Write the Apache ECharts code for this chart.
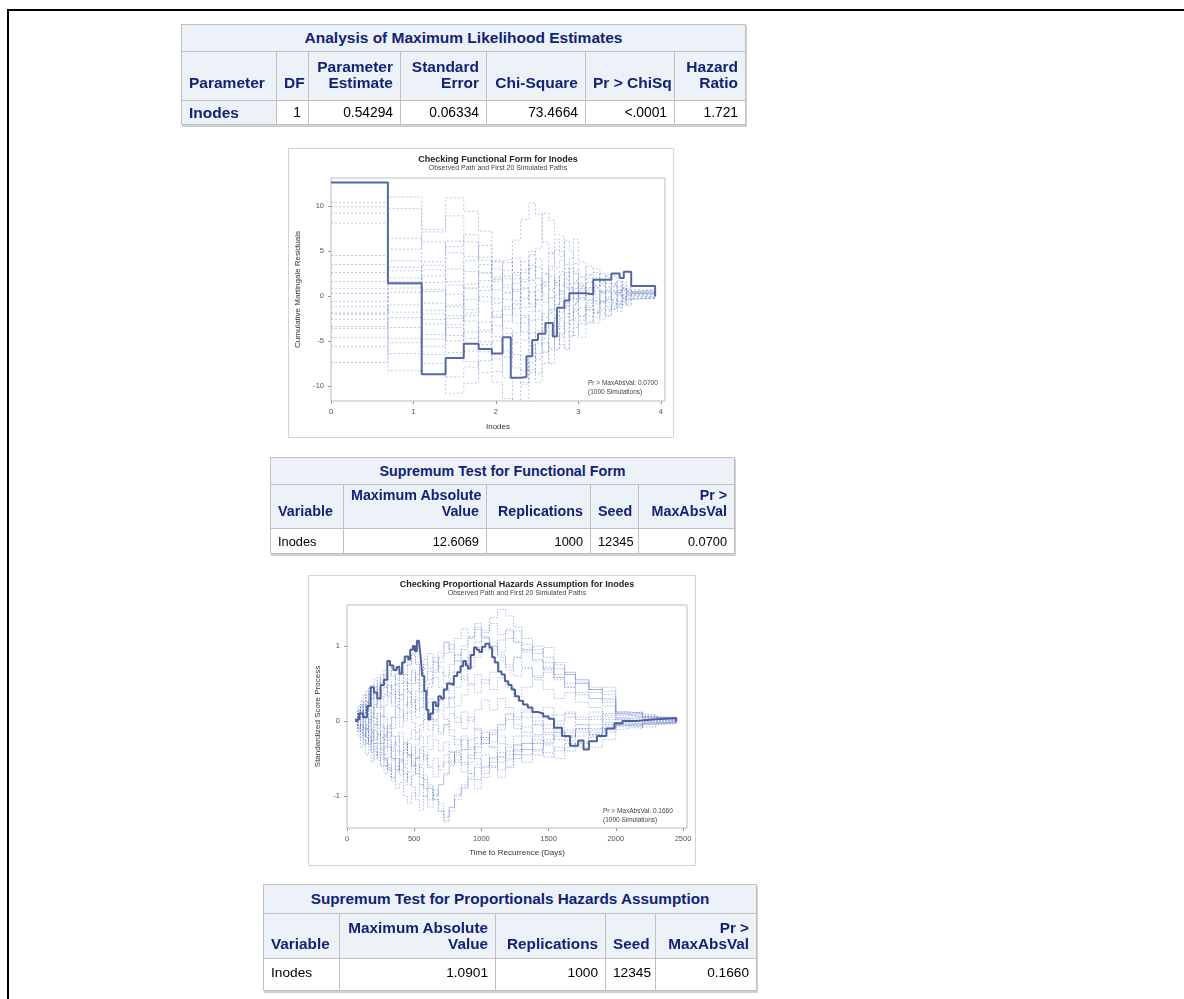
<!DOCTYPE html>
<html><head><meta charset="utf-8">
<script src="https://cdn.jsdelivr.net/npm/echarts@6/dist/echarts.min.js"></script>
<style>
html,body{margin:0;padding:0;background:#fff;overflow:hidden;width:1184px;height:999px}
#frame{position:absolute;left:7px;top:9px;width:1400px;height:1200px;border-top:2px solid #000;border-left:2px solid #000;}
#chart{position:absolute;left:0;top:0;width:1184px;height:999px;}
table.sas{position:absolute;border-collapse:collapse;table-layout:fixed;font-family:'Liberation Sans',Arial,sans-serif;z-index:5;border:1px solid #c1c1c1;box-shadow:1px 2px 0 #d0d0d0}
table.sas th,table.sas td{border:1px solid #c1c1c1;padding:0 7px;overflow:hidden;white-space:nowrap;box-sizing:border-box}
table.sas th{background:#edf2f9;color:#112277;font-weight:bold;text-align:right;vertical-align:bottom;line-height:16px;padding-bottom:9px}
table.sas th.ttl{text-align:center;vertical-align:middle;padding-bottom:0}
table.sas th.l{text-align:left}
table.sas tr.d th{vertical-align:middle;padding-bottom:0}
table.sas td{background:#fff;color:#000;text-align:right;vertical-align:middle}
table.sas td.l{text-align:left}
#t3 tr.h th{padding-bottom:6px}
#t3 tr.d td{padding-bottom:4px}
</style></head>
<body>
<div id="frame"></div>
<div id="chart"></div>

<table class="sas" style="left:181px;top:24px;width:564px;font-size:15.5px">
<colgroup><col style="width:95px"><col style="width:32px"><col style="width:92px"><col style="width:86px"><col style="width:99px"><col style="width:89px"><col style="width:71px"></colgroup>
<tr style="height:27px"><th colspan="7" class="ttl">Analysis of Maximum Likelihood Estimates</th></tr>
<tr style="height:49px"><th class="l">Parameter</th><th>DF</th><th>Parameter<br>Estimate</th><th>Standard<br>Error</th><th>Chi-Square</th><th>Pr &gt; ChiSq</th><th>Hazard<br>Ratio</th></tr>
<tr class="d" style="height:24px;font-size:13.8px"><th class="l" style="font-size:15.5px">Inodes</th><td>1</td><td>0.54294</td><td>0.06334</td><td>73.4664</td><td>&lt;.0001</td><td>1.721</td></tr>
</table>

<table class="sas" style="left:270px;top:457px;width:464px;font-size:14.3px">
<colgroup><col style="width:73px"><col style="width:143px"><col style="width:104px"><col style="width:48px"><col style="width:96px"></colgroup>
<tr style="height:27px"><th colspan="5" class="ttl">Supremum Test for Functional Form</th></tr>
<tr style="height:44px"><th class="l">Variable</th><th>Maximum Absolute<br>Value</th><th>Replications</th><th>Seed</th><th>Pr &gt;<br>MaxAbsVal</th></tr>
<tr class="d" style="height:25px;font-size:12.8px"><td class="l">Inodes</td><td>12.6069</td><td>1000</td><td>12345</td><td>0.0700</td></tr>
</table>

<table class="sas" id="t3" style="left:263px;top:884px;width:493px;font-size:15.3px">
<colgroup><col style="width:76px"><col style="width:156px"><col style="width:110px"><col style="width:50px"><col style="width:101px"></colgroup>
<tr style="height:29px"><th colspan="5" class="ttl">Supremum Test for Proportionals Hazards Assumption</th></tr>
<tr class="h" style="height:45px"><th class="l">Variable</th><th>Maximum Absolute<br>Value</th><th>Replications</th><th>Seed</th><th>Pr &gt;<br>MaxAbsVal</th></tr>
<tr class="d" style="height:32px;font-size:13.7px"><td class="l">Inodes</td><td>1.0901</td><td>1000</td><td>12345</td><td>0.1660</td></tr>
</table>

<script>
// ---------- Chart 1: Checking Functional Form for Inodes ----------
const FF_OBS_X = [0, 0.69, 1.10, 1.39, 1.61, 1.79, 1.95, 2.08, 2.18, 2.30, 2.37, 2.44, 2.51, 2.60, 2.69, 2.74, 2.83, 2.89, 3.09, 3.18, 3.40, 3.50, 3.55, 3.64, 3.93];
const FF_OBS_Y = [12.6, 1.4, -8.7, -6.9, -5.3, -5.9, -6.4, -4.6, -9.1, -9.0, -6.7, -4.9, -4.2, -3.0, -4.5, -1.3, -0.5, 0.3, 0.2, 1.8, 2.5, 2.0, 2.7, 1.1, 0];
const FF_SIM_X = [0, 0.69, 1.10, 1.39, 1.61, 1.79, 1.95, 2.08, 2.20, 2.30, 2.40, 2.48, 2.56, 2.64, 2.71, 2.77, 2.83, 2.89, 2.94, 3.00, 3.09, 3.18, 3.26, 3.33, 3.40, 3.47, 3.53, 3.58, 3.64, 3.93];
const FF_SIM_1 = [10.4, 11.0, 7.4, 10.9, 9.4, 7.2, 3.9, 4.1, 2.6, 1.8, 3.1, 2.0, 1.1, 2.2, 1.5, 2.4, 1.0, 0.6, 1.3, 0.8, 0.2, 0.9, 0.4, 0.7, 0.3, 0.5, 0.1, 0.4, 0.2, 0];
const FF_SIM_2 = [9.9, 6.4, 3.8, 5.5, 6.8, 4.3, 2.1, 1.2, 6.2, 8.5, 10.3, 9.1, 6.0, 4.8, 3.1, 4.0, 2.2, 3.5, 2.5, 1.4, 2.0, 1.1, 1.6, 0.9, 1.2, 0.6, 0.9, 0.5, 0.7, 0];
const FF_SIM_3 = [9.2, 3.2, 0.5, -1.2, 0.8, -0.6, -2.3, -1.5, 0.7, 2.9, 4.6, 5.3, 9.2, 8.4, 6.8, 6.6, 3.5, 4.2, 6.3, 3.8, 2.4, 3.0, 1.8, 2.2, 1.3, 1.7, 0.8, 1.0, 0.5, 0];
const FF_SIM_4 = [8.1, 9.7, 6.0, 4.8, 2.7, 1.0, -0.8, 0.9, -1.4, -3.0, -1.7, -0.4, 1.5, 3.3, 5.1, 4.4, 6.1, 4.9, 3.6, 2.1, 3.3, 2.6, 1.4, 2.0, 1.1, 1.5, 0.7, 0.9, 0.4, 0];
const FF_SIM_5 = [4.5, 2.8, 3.4, 1.6, 3.9, 5.6, 3.0, 1.9, -0.5, -2.2, -4.1, -2.6, -3.9, -1.8, -0.9, -2.5, -1.2, 0.4, -0.8, 0.6, 1.5, 0.2, -0.6, 0.5, 1.0, 0.3, -0.2, 0.6, 0.3, 0];
const FF_SIM_6 = [3.5, 2.0, -0.8, -3.2, -1.5, -4.0, -2.1, -3.6, -5.2, -7.1, -8.5, -6.4, -4.7, -5.8, -3.9, -2.8, -4.0, -2.6, -1.5, -2.3, -1.1, -1.8, -0.7, -1.2, -0.4, -0.9, -0.2, 0.1, -0.1, 0];
const FF_SIM_7 = [2.6, 1.3, 2.2, 0.2, -1.9, 0.6, 1.8, 0.4, 2.3, 0.9, -0.9, 1.2, -0.7, 0.8, 2.0, 0.5, -1.1, 0.3, 1.5, -0.2, 0.7, -0.6, 0.4, -0.3, 0.5, 0.0, 0.6, 0.2, -0.1, 0];
const FF_SIM_8 = [0.85, 0.9, -2.6, -5.0, -7.3, -8.5, -9.6, -11.4, -12.5, -12.5, -8.2, -9.6, -7.5, -6.0, -4.2, -4.6, -3.0, -4.6, -3.5, -3.1, -2.2, -3.0, -1.9, -2.2, -1.4, -1.0, -0.8, -0.3, -0.2, 0];
const FF_SIM_9 = [0.3, -1.8, -4.3, -2.5, -0.4, 1.7, -0.3, -2.1, -0.8, 1.6, 3.4, 1.9, 0.2, -1.6, -0.3, 1.2, 2.6, 1.0, -0.6, 0.8, -0.4, 0.9, 1.7, 0.6, -0.2, 0.4, 0.9, 0.3, 0.5, 0];
const FF_SIM_10 = [-0.6, 3.9, 1.5, 3.0, 0.9, 2.6, 3.8, 2.2, 0.5, -1.3, 0.4, -1.7, -3.2, -1.5, 0.1, -1.8, -0.5, -2.0, -0.9, 0.3, -1.3, -0.2, 0.6, -0.5, 0.2, -0.6, 0.1, -0.3, 0.2, 0];
const FF_SIM_11 = [-1.2, -3.5, -6.5, -10.8, -9.7, -7.2, -5.0, -6.8, -4.1, -2.4, -5.5, -7.0, -5.2, -7.5, -6.0, -4.1, -5.8, -4.4, -2.8, -4.6, -3.0, -1.9, -2.6, -1.5, -0.9, -1.3, -0.6, -0.9, -0.3, 0];
const FF_SIM_12 = [-1.9, 0.4, 2.9, 6.1, 4.4, 2.5, 0.7, 2.8, 4.2, 2.6, 5.0, 3.2, 1.6, 3.0, 1.2, 2.7, 0.9, -0.4, 0.8, 2.1, 0.9, 1.8, 0.5, 1.0, 0.3, 0.6, -0.1, 0.2, 0.4, 0];
const FF_SIM_13 = [-2.6, -5.2, -3.1, -6.3, -4.0, -6.2, -8.4, -6.1, -8.0, -9.8, -7.4, -5.3, -3.5, -1.9, -3.4, -5.4, -6.0, -3.9, -4.4, -2.7, -1.5, -2.4, -1.6, -2.2, -1.1, -0.6, -1.0, -0.4, -0.2, 0];
const FF_SIM_14 = [-3.4, -1.0, 0.7, -2.2, -4.7, -2.9, -4.5, -2.8, -1.0, 0.8, -1.2, 0.6, 2.4, 4.7, 6.3, 4.9, 3.0, 1.4, 2.8, 1.1, -0.5, 0.5, -0.8, -0.1, -0.7, 0.2, -0.4, 0.0, 0.3, 0];
const FF_SIM_15 = [-3.6, -6.4, -7.5, -9.0, -7.9, -5.4, -3.3, -1.2, -3.0, -4.9, -2.7, -0.9, -2.4, -4.0, -2.2, -0.6, -2.0, -3.2, -1.7, -0.4, -1.6, -0.5, -1.4, -0.7, -1.5, -0.8, -0.3, -0.6, 0.1, 0];
const FF_SIM_16 = [-4.6, -2.4, -4.8, -1.0, 1.3, 3.5, 1.6, 3.7, 1.9, -0.3, 1.8, 4.1, 2.5, 0.6, -1.0, 0.6, -0.8, 0.9, -0.3, 1.0, 2.3, 1.2, 2.5, 1.4, 2.2, 1.0, 1.6, 0.7, 0.6, 0];
const FF_SIM_17 = [-5.6, -8.3, -5.6, -3.5, -6.1, -3.8, -1.7, -4.2, -6.5, -8.3, -5.9, -3.8, -6.2, -4.1, -5.9, -4.3, -2.3, -1.0, -2.5, -1.3, -2.9, -1.6, -0.5, -1.7, -0.8, -1.7, -0.7, -1.1, -0.3, 0];
const FF_SIM_18 = [-7.4, -4.7, -2.0, -4.4, -2.2, -0.1, -2.4, 0.3, -2.1, -4.0, -6.3, -4.2, -2.0, -0.2, 1.5, -0.3, 1.3, 3.1, 1.7, -0.2, 0.9, 2.0, 1.1, 2.4, 1.4, 0.7, 1.3, 0.5, 0.6, 0];
const FF_SIM_19 = [-2.0, 1.6, -1.6, 1.2, -2.8, -5.1, -7.0, -9.1, -12.5, -9.6, -6.6, -8.6, -6.3, -4.3, -2.5, -3.4, -1.4, -2.7, -1.0, -2.2, -0.8, -1.9, -0.6, 0.4, -0.5, -1.1, -0.4, 0.0, -0.2, 0];
const FF_SIM_20 = [1.6, 5.2, 7.1, 8.9, 6.0, 4.0, 1.9, -0.4, 1.4, 3.8, 1.7, -0.5, 1.3, -0.2, 1.7, 0.2, 1.9, 0.4, -0.4, 1.2, 0.1, -0.9, 0.3, -0.4, 0.6, 0.1, 0.8, 0.3, 0.1, 0];
const FF_X_TICKS = [0, 1, 2, 3, 4];
const FF_Y_TICKS = [-10, -5, 0, 5, 10];

// ---------- Chart 2: Checking Proportional Hazards Assumption ----------
const PH_OBS_T = [60, 90, 120, 150, 175, 200, 225, 250, 275, 300, 320, 345, 370, 390, 410, 430, 455, 470, 490, 505, 520, 535, 548, 560, 575, 590, 605, 620, 640, 660, 680, 700, 720, 745, 770, 795, 820, 845, 865, 885, 900, 920, 945, 965, 985, 1005, 1030, 1060, 1080, 1100, 1125, 1150, 1175, 1200, 1225, 1250, 1280, 1310, 1345, 1380, 1420, 1460, 1500, 1540, 1600, 1660, 1720, 1760, 1800, 1860, 1930, 1990, 2050, 2150, 2280, 2450];
const PH_OBS_Y = [0.02, 0.10, 0.05, 0.20, 0.45, 0.38, 0.30, 0.48, 0.55, 0.80, 0.74, 0.68, 0.72, 0.63, 0.78, 0.86, 0.82, 0.95, 1.00, 0.93, 1.07, 1.09, 0.85, 0.60, 0.40, 0.15, 0.02, 0.10, 0.25, 0.20, 0.33, 0.30, 0.42, 0.50, 0.48, 0.60, 0.65, 0.73, 0.80, 0.74, 0.70, 0.88, 0.98, 0.95, 0.92, 0.99, 1.03, 0.98, 0.85, 0.78, 0.66, 0.62, 0.53, 0.48, 0.42, 0.33, 0.27, 0.22, 0.18, 0.12, 0.10, 0.06, 0.03, -0.09, -0.20, -0.33, -0.26, -0.38, -0.27, -0.20, -0.10, -0.03, 0.00, 0.02, 0.04, 0.00];
const PH_SIM_T = [60, 80, 100, 120, 140, 160, 180, 200, 225, 250, 275, 300, 330, 360, 390, 420, 450, 480, 510, 540, 570, 600, 640, 680, 720, 760, 800, 850, 900, 950, 1000, 1060, 1120, 1180, 1240, 1300, 1380, 1460, 1540, 1620, 1700, 1800, 1900, 2000, 2100, 2200, 2300, 2450];
const PH_SIM_1 = [0, 0.12, 0.05, 0.2, 0.1, 0.28, 0.35, 0.22, 0.4, 0.52, 0.45, 0.6, 0.72, 0.55, 0.66, 0.81, 0.74, 0.9, 0.78, 0.62, 0.7, 0.55, 0.68, 0.85, 1.05, 0.96, 1.1, 1.23, 1.12, 1.3, 1.21, 1.38, 1.49, 1.4, 1.25, 1.1, 0.95, 0.78, 0.62, 0.5, 0.38, 0.3, 0.2, 0.12, 0.08, 0.05, 0.03, 0];
const PH_SIM_2 = [0, -0.1, -0.05, -0.18, -0.3, -0.22, -0.38, -0.5, -0.42, -0.6, -0.7, -0.58, -0.76, -0.9, -0.82, -1.0, -1.1, -0.95, -1.05, -1.19, -1.0, -0.88, -1.05, -1.2, -1.33, -1.15, -0.98, -0.85, -0.7, -0.78, -0.6, -0.48, -0.55, -0.4, -0.32, -0.38, -0.25, -0.3, -0.2, -0.26, -0.15, -0.18, -0.1, -0.06, -0.08, -0.04, -0.02, 0];
const PH_SIM_3 = [0, 0.08, 0.15, 0.05, -0.1, 0.02, -0.15, -0.05, 0.1, -0.08, -0.25, -0.15, -0.32, -0.2, -0.4, -0.28, -0.45, -0.6, -0.5, -0.35, -0.48, -0.62, -0.75, -0.6, -0.45, -0.58, -0.4, -0.25, -0.38, -0.22, -0.3, -0.15, -0.05, 0.1, 0.02, 0.15, 0.05, 0.18, 0.08, 0.12, 0.02, 0.06, -0.02, 0.04, 0.01, 0.03, 0.0, 0];
const PH_SIM_4 = [0, 0.15, 0.28, 0.2, 0.35, 0.45, 0.3, 0.42, 0.58, 0.48, 0.62, 0.75, 0.6, 0.48, 0.35, 0.5, 0.38, 0.25, 0.4, 0.55, 0.42, 0.3, 0.15, 0.28, 0.4, 0.52, 0.65, 0.55, 0.72, 0.85, 0.95, 1.05, 0.92, 1.1, 1.2, 1.02, 0.9, 0.98, 0.75, 0.65, 0.55, 0.45, 0.4, 0.12, 0.1, 0.08, 0.05, 0];
const PH_SIM_5 = [0, -0.2, -0.35, -0.25, -0.45, -0.38, -0.55, -0.45, -0.3, -0.42, -0.2, -0.35, -0.5, -0.65, -0.52, -0.7, -0.85, -0.72, -0.6, -0.75, -0.9, -1.05, -0.92, -1.1, -1.28, -1.15, -1.0, -0.88, -0.75, -0.62, -0.7, -0.55, -0.42, -0.5, -0.38, -0.45, -0.3, -0.42, -0.5, -0.35, -0.28, -0.2, -0.12, -0.1, -0.05, -0.08, -0.03, 0];
const PH_SIM_6 = [0, 0.1, -0.02, 0.12, 0.25, 0.15, 0.05, 0.2, 0.32, 0.18, 0.05, -0.1, 0.05, 0.2, 0.35, 0.22, 0.38, 0.5, 0.62, 0.48, 0.35, 0.5, 0.65, 0.78, 0.9, 1.02, 0.88, 0.75, 0.92, 1.05, 1.18, 1.3, 1.15, 1.22, 1.05, 0.95, 1.0, 0.85, 0.7, 0.62, 0.5, 0.42, 0.35, 0.1, 0.12, 0.06, 0.04, 0];
const PH_SIM_7 = [0, -0.05, -0.15, -0.08, -0.2, -0.12, -0.28, -0.4, -0.52, -0.45, -0.6, -0.48, -0.35, -0.5, -0.65, -0.8, -0.68, -0.55, -0.7, -0.58, -0.45, -0.6, -0.5, -0.65, -0.55, -0.4, -0.52, -0.38, -0.5, -0.35, -0.22, -0.35, -0.48, -0.6, -0.45, -0.55, -0.4, -0.48, -0.35, -0.4, -0.3, -0.35, -0.25, -0.08, -0.1, -0.05, -0.04, 0];
const PH_SIM_8 = [0, 0.05, 0.12, 0.22, 0.15, 0.3, 0.2, 0.1, -0.05, 0.08, -0.1, -0.22, -0.1, 0.05, -0.08, 0.1, 0.25, 0.12, 0.28, 0.4, 0.3, 0.15, 0.0, -0.15, -0.05, -0.2, -0.32, -0.2, -0.35, -0.5, -0.62, -0.5, -0.65, -0.52, -0.4, -0.3, -0.38, -0.25, -0.15, -0.2, -0.1, -0.15, -0.08, -0.02, -0.04, -0.01, -0.02, 0];
const PH_SIM_9 = [0, -0.12, -0.25, -0.15, -0.05, -0.2, -0.1, 0.05, -0.1, -0.22, -0.35, -0.25, -0.4, -0.28, -0.15, -0.3, -0.45, -0.58, -0.7, -0.85, -0.72, -0.85, -0.98, -0.85, -0.72, -0.6, -0.45, -0.58, -0.45, -0.3, -0.15, -0.28, -0.12, 0.02, -0.1, 0.05, -0.05, 0.08, 0.0, 0.1, 0.05, 0.12, 0.05, 0.02, 0.04, 0.02, 0.01, 0];
const PH_SIM_10 = [0, 0.2, 0.1, 0.25, 0.4, 0.3, 0.45, 0.55, 0.42, 0.3, 0.45, 0.32, 0.2, 0.35, 0.5, 0.62, 0.5, 0.65, 0.5, 0.38, 0.52, 0.66, 0.8, 0.92, 1.05, 0.92, 0.8, 0.95, 1.1, 1.22, 1.12, 1.0, 0.85, 0.72, 0.6, 0.7, 0.58, 0.65, 0.55, 0.45, 0.35, 0.3, 0.25, 0.08, 0.06, 0.04, 0.02, 0];
const PH_SIM_11 = [0, -0.08, 0.05, -0.1, -0.22, -0.32, -0.2, -0.35, -0.48, -0.6, -0.5, -0.65, -0.8, -0.68, -0.55, -0.42, -0.3, -0.45, -0.32, -0.2, -0.35, -0.2, -0.05, -0.18, -0.05, 0.1, -0.02, 0.12, 0.0, 0.15, 0.28, 0.15, 0.3, 0.18, 0.05, 0.12, 0.0, -0.1, -0.05, 0.05, -0.05, 0.02, 0.08, 0.03, 0.05, 0.02, 0.01, 0];
const PH_SIM_12 = [0, 0.15, 0.08, -0.05, 0.1, -0.02, 0.12, -0.05, -0.18, -0.3, -0.45, -0.32, -0.5, -0.65, -0.5, -0.62, -0.75, -0.88, -1.0, -0.85, -1.0, -1.15, -1.0, -0.85, -0.7, -0.55, -0.42, -0.55, -0.7, -0.58, -0.45, -0.6, -0.75, -0.62, -0.5, -0.38, -0.45, -0.32, -0.4, -0.3, -0.35, -0.22, -0.15, -0.06, -0.08, -0.04, -0.02, 0];
const PH_SIM_13 = [0, 0.1, 0.22, 0.35, 0.25, 0.15, 0.3, 0.45, 0.35, 0.55, 0.68, 0.55, 0.42, 0.3, 0.15, 0.0, 0.12, -0.02, -0.15, -0.05, 0.1, 0.25, 0.12, 0.28, 0.42, 0.3, 0.45, 0.6, 0.48, 0.62, 0.5, 0.65, 0.8, 0.68, 0.85, 0.95, 0.82, 0.7, 0.58, 0.45, 0.52, 0.42, 0.3, 0.1, 0.12, 0.08, 0.05, 0];
const PH_SIM_14 = [0, -0.15, -0.05, -0.2, -0.12, -0.28, -0.42, -0.3, -0.18, -0.05, -0.2, -0.08, 0.05, 0.18, 0.05, 0.2, 0.32, 0.2, 0.05, 0.18, 0.32, 0.45, 0.58, 0.45, 0.3, 0.18, 0.05, -0.1, 0.05, -0.12, -0.25, -0.12, -0.3, -0.45, -0.32, -0.2, -0.3, -0.18, -0.25, -0.15, -0.2, -0.12, -0.05, -0.04, -0.05, -0.02, -0.01, 0];
const PH_SIM_15 = [0, 0.05, -0.08, -0.2, -0.1, -0.25, -0.15, -0.3, -0.45, -0.35, -0.5, -0.62, -0.75, -0.6, -0.72, -0.58, -0.45, -0.6, -0.48, -0.62, -0.78, -0.9, -1.05, -1.2, -1.35, -1.2, -1.05, -0.9, -0.78, -0.9, -0.75, -0.62, -0.48, -0.35, -0.45, -0.3, -0.2, -0.28, -0.15, -0.22, -0.12, -0.18, -0.1, -0.05, -0.06, -0.03, -0.02, 0];
const PH_SIM_16 = [0, 0.08, 0.2, 0.1, 0.22, 0.35, 0.48, 0.35, 0.5, 0.62, 0.5, 0.38, 0.25, 0.4, 0.28, 0.42, 0.55, 0.68, 0.55, 0.7, 0.82, 0.7, 0.85, 0.72, 0.6, 0.75, 0.88, 1.0, 1.12, 1.25, 1.12, 1.0, 0.88, 0.75, 0.85, 0.72, 0.6, 0.72, 0.58, 0.65, 0.55, 0.42, 0.45, 0.12, 0.1, 0.06, 0.03, 0];
const PH_SIM_17 = [0, -0.1, -0.2, -0.32, -0.22, -0.35, -0.25, -0.12, -0.25, -0.38, -0.52, -0.65, -0.52, -0.4, -0.52, -0.38, -0.25, -0.12, -0.25, -0.12, 0.02, -0.12, 0.02, 0.15, 0.02, -0.12, -0.25, -0.38, -0.25, -0.1, -0.22, -0.35, -0.2, -0.32, -0.2, -0.08, -0.18, -0.05, -0.12, -0.2, -0.1, -0.05, 0.02, 0.0, -0.02, 0.0, 0.01, 0];
const PH_SIM_18 = [0, 0.12, 0.02, 0.15, 0.05, -0.08, 0.05, 0.18, 0.3, 0.2, 0.35, 0.48, 0.35, 0.5, 0.65, 0.52, 0.4, 0.28, 0.15, 0.3, 0.15, 0.02, 0.15, 0.3, 0.18, 0.32, 0.2, 0.35, 0.5, 0.38, 0.55, 0.42, 0.58, 0.45, 0.32, 0.45, 0.55, 0.42, 0.3, 0.38, 0.25, 0.18, 0.1, 0.05, 0.06, 0.03, 0.02, 0];
const PH_SIM_19 = [0, -0.05, -0.12, 0.0, -0.1, 0.02, -0.12, -0.25, -0.15, -0.3, -0.18, -0.05, -0.2, -0.32, -0.45, -0.32, -0.48, -0.35, -0.5, -0.38, -0.52, -0.38, -0.25, -0.4, -0.28, -0.42, -0.55, -0.68, -0.55, -0.42, -0.3, -0.18, -0.05, 0.08, -0.05, -0.15, -0.05, -0.15, -0.08, -0.12, -0.05, -0.1, -0.05, -0.03, -0.04, -0.02, -0.01, 0];
const PH_SIM_20 = [0, 0.1, 0.2, 0.08, 0.18, 0.05, 0.18, 0.3, 0.18, 0.05, 0.2, 0.35, 0.48, 0.62, 0.75, 0.62, 0.75, 0.88, 0.75, 0.62, 0.75, 0.9, 0.78, 0.65, 0.5, 0.65, 0.8, 0.68, 0.85, 0.98, 1.1, 0.95, 1.08, 1.2, 1.05, 0.92, 0.8, 0.68, 0.78, 0.62, 0.5, 0.38, 0.28, 0.08, 0.1, 0.05, 0.03, 0];
const PH_X_TICKS = [0, 500, 1000, 1500, 2000, 2500];
const PH_Y_TICKS = [-1, 0, 1];

const FF_SIMS = [FF_SIM_1, FF_SIM_2, FF_SIM_3, FF_SIM_4, FF_SIM_5, FF_SIM_6, FF_SIM_7, FF_SIM_8, FF_SIM_9, FF_SIM_10,
  FF_SIM_11, FF_SIM_12, FF_SIM_13, FF_SIM_14, FF_SIM_15, FF_SIM_16, FF_SIM_17, FF_SIM_18, FF_SIM_19, FF_SIM_20];
const PH_SIMS = [PH_SIM_1, PH_SIM_2, PH_SIM_3, PH_SIM_4, PH_SIM_5, PH_SIM_6, PH_SIM_7, PH_SIM_8, PH_SIM_9, PH_SIM_10,
  PH_SIM_11, PH_SIM_12, PH_SIM_13, PH_SIM_14, PH_SIM_15, PH_SIM_16, PH_SIM_17, PH_SIM_18, PH_SIM_19, PH_SIM_20];

const FONT = "'Liberation Sans', Arial, sans-serif";
const zip = (xs, ys) => xs.map((x, i) => [x, ys[i]]);

function simSeries(xs, sims, idx, color, dash) {
  return sims.map(p => ({
    type: 'line', xAxisIndex: idx, yAxisIndex: idx, step: 'end', data: zip(xs, p),
    showSymbol: false, symbol: 'none', silent: true, z: 2,
    lineStyle: { width: 0.8, color: color, type: dash }
  }));
}

function xAxis(idx, min, max, ticks, name, gap) {
  return {
    type: 'value', gridIndex: idx, min: min, max: max, name: name, nameLocation: 'middle', nameGap: gap,
    nameTextStyle: { fontFamily: FONT, fontSize: 8, color: '#333' },
    axisLine: { show: false, onZero: false },
    axisTick: { show: true, length: 3, customValues: ticks, lineStyle: { color: '#999', width: 1 } },
    axisLabel: { customValues: ticks, fontFamily: FONT, fontSize: 7.5, color: '#555', margin: 7, formatter: v => String(v) },
    splitLine: { show: false }
  };
}
function yAxis(idx, min, max, ticks, name, gap) {
  return {
    type: 'value', gridIndex: idx, min: min, max: max, name: name, nameLocation: 'middle', nameGap: gap, nameRotate: 90,
    nameTextStyle: { fontFamily: FONT, fontSize: 8, color: '#333' },
    axisLine: { show: false, onZero: false },
    axisTick: { show: true, length: 3, customValues: ticks, lineStyle: { color: '#999', width: 1 } },
    axisLabel: { customValues: ticks, fontFamily: FONT, fontSize: 7.5, color: '#555', margin: 7, formatter: v => String(v) },
    splitLine: { show: false }
  };
}
function txt(x, y, text, font, fill, align) {
  return { type: 'text', x: x, y: y, z: 20, silent: true,
    style: { text: text, font: font, fill: fill, align: align || 'center', verticalAlign: 'middle' } };
}

const chart = echarts.init(document.getElementById('chart'), null, { renderer: 'canvas' });
chart.setOption({
  animation: false,
  backgroundColor: 'transparent',
  grid: [
    { left: 331, top: 178, width: 334, height: 223, show: true, borderColor: '#bdbdbd', borderWidth: 1, backgroundColor: '#fff' },
    { left: 347, top: 605, width: 340, height: 223, show: true, borderColor: '#bdbdbd', borderWidth: 1, backgroundColor: '#fff' }
  ],
  xAxis: [
    xAxis(0, 0, 4.05, FF_X_TICKS, 'Inodes', 22),
    xAxis(1, 0, 2530, PH_X_TICKS, 'Time to Recurrence (Days)', 21)
  ],
  yAxis: [
    yAxis(0, -11.67, 13.1, FF_Y_TICKS, 'Cumulative Martingale Residuals', 29),
    yAxis(1, -1.427, 1.547, PH_Y_TICKS, 'Standardized Score Process', 25)
  ],
  graphic: [
    { type: 'rect', z: -5, silent: true, shape: { x: 288.5, y: 148.5, width: 385, height: 289 }, style: { fill: '#fff', stroke: '#d4d4d4', lineWidth: 1 } },
    { type: 'rect', z: -5, silent: true, shape: { x: 308.5, y: 575.5, width: 387, height: 290 }, style: { fill: '#fff', stroke: '#d4d4d4', lineWidth: 1 } },
    txt(498, 159.5, 'Checking Functional Form for Inodes', 'bold 9px ' + FONT, '#222'),
    txt(498, 168, 'Observed Path and First 20 Simulated Paths', '7px ' + FONT, '#444'),
    txt(588, 383, 'Pr > MaxAbsVal: 0.0700', '6.5px ' + FONT, '#444', 'left'),
    txt(588, 392, '(1000 Simulations)', '6.5px ' + FONT, '#444', 'left'),
    txt(517, 585, 'Checking Proportional Hazards Assumption for Inodes', 'bold 9px ' + FONT, '#222'),
    txt(517, 593.5, 'Observed Path and First 20 Simulated Paths', '7px ' + FONT, '#444'),
    txt(603, 811, 'Pr > MaxAbsVal: 0.1660', '6.5px ' + FONT, '#444', 'left'),
    txt(603, 820, '(1000 Simulations)', '6.5px ' + FONT, '#444', 'left')
  ],
  series: [].concat(
    simSeries(FF_SIM_X, FF_SIMS, 0, 'rgba(115,140,205,0.6)', [2, 2]),
    [{ type: 'line', xAxisIndex: 0, yAxisIndex: 0, step: 'end', data: zip(FF_OBS_X, FF_OBS_Y), showSymbol: false, symbol: 'none', silent: true, z: 5,
       lineStyle: { width: 2, color: '#5568a2' } }],
    simSeries(PH_SIM_T, PH_SIMS, 1, 'rgba(75,105,195,0.55)', [1.5, 1.5]),
    [{ type: 'line', xAxisIndex: 1, yAxisIndex: 1, step: 'end', data: zip(PH_OBS_T, PH_OBS_Y), showSymbol: false, symbol: 'none', silent: true, z: 5,
       lineStyle: { width: 2, color: '#4d609a' } }]
  )
});
</script>
</body></html>
